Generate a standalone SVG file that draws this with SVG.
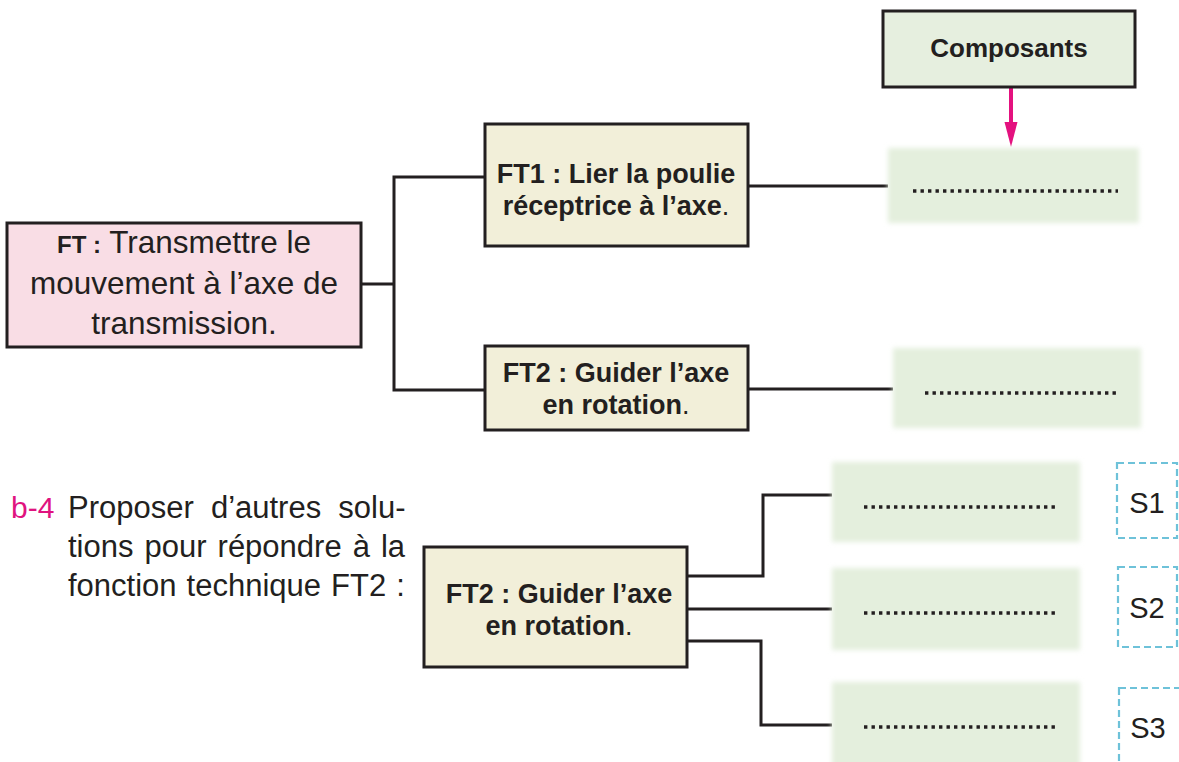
<svg xmlns="http://www.w3.org/2000/svg" width="1179" height="762" viewBox="0 0 1179 762">
<defs>
<style>
.box{stroke:#231f20;stroke-width:3}
.pink{fill:#f9dde5}
.cream{fill:#f2efd9}
.comp{fill:#e6efdf}
.green{fill:#e4efdd;filter:url(#soft)}
.conn{fill:none;stroke:#231f20;stroke-width:3}
.dots{stroke:#231f20;stroke-width:3.4;stroke-dasharray:3.4 4.1}
.sbox{fill:none;stroke:#6ec2d9;stroke-width:2.2;stroke-dasharray:7 4}
.t{font-family:"Liberation Sans",Arial,sans-serif;fill:#231f20}
.b{font-weight:bold}
.n{font-weight:normal}
</style>
<filter id="soft" x="-10%" y="-20%" width="120%" height="140%">
<feGaussianBlur stdDeviation="2.5"/>
</filter>
</defs>
<rect width="1179" height="762" fill="#ffffff"/>

<g id="connectors">
<polyline class="conn" points="361,284 394,284"/>
<polyline class="conn" points="485,177 394,177 394,390 485,390"/>
<line class="conn" x1="748" y1="186" x2="888" y2="186"/>
<line class="conn" x1="748" y1="389" x2="893" y2="389"/>
<polyline class="conn" points="687,576 763,576 763,495 832,495"/>
<line class="conn" x1="687" y1="609" x2="832" y2="609"/>
<polyline class="conn" points="687,641 761,641 761,725 832,725"/>
<g id="arrow">
<line x1="1011" y1="88" x2="1011" y2="126" stroke="#e4117f" stroke-width="4"/>
<polygon points="1004.5,122 1017.5,122 1011,147" fill="#e4117f"/>
</g>
</g>

<g id="ft">
<rect class="box pink" x="7" y="223" width="354" height="124"/>
<text class="t" text-anchor="middle" font-size="31.5"><tspan x="184" y="253"><tspan class="b" font-size="24">FT :</tspan> Transmettre le</tspan><tspan x="184" y="294">mouvement à l’axe de</tspan><tspan x="184" y="334">transmission.</tspan></text>
</g>

<g id="ft1">
<rect class="box cream" x="485" y="124" width="263" height="122"/>
<text class="t b" text-anchor="middle" font-size="27"><tspan x="616" y="183">FT1 : Lier la poulie</tspan><tspan x="616" y="215">réceptrice à l’axe<tspan class="n">.</tspan></tspan></text>
</g>

<g id="ft2">
<rect class="box cream" x="485" y="346" width="263" height="84"/>
<text class="t b" text-anchor="middle" font-size="27"><tspan x="616" y="382">FT2 : Guider l’axe</tspan><tspan x="616" y="414">en rotation<tspan class="n">.</tspan></tspan></text>
</g>

<g id="composants">
<rect class="box comp" x="883" y="11" width="252" height="76"/>
<text class="t b" x="1009" y="57" text-anchor="middle" font-size="26">Composants</text>
</g>

<g id="answer1">
<rect class="green" x="888" y="148" width="251" height="75"/>
<line class="dots" x1="913" y1="191" x2="1118" y2="191"/>
</g>

<g id="answer2">
<rect class="green" x="893" y="348" width="248" height="80"/>
<line class="dots" x1="925" y1="393" x2="1116" y2="393"/>
</g>

<g id="question">
<text class="t" x="11" y="518" font-size="30" style="fill:#e0137f">b-4</text>
<text class="t" font-size="31"><tspan x="68" y="518" word-spacing="8.5">Proposer d’autres solu-</tspan><tspan x="68" y="557" word-spacing="2.4">tions pour répondre à la</tspan><tspan x="68" y="596" word-spacing="1.4">fonction technique FT2 :</tspan></text>
</g>

<g id="ft2b">
<rect class="box cream" x="424" y="547" width="263" height="120"/>
<text class="t b" text-anchor="middle" font-size="27"><tspan x="559" y="603">FT2 : Guider l’axe</tspan><tspan x="559" y="635">en rotation<tspan class="n">.</tspan></tspan></text>
</g>

<g id="s1">
<rect class="green" x="832" y="462" width="248" height="80"/>
<line class="dots" x1="864" y1="507" x2="1055" y2="507"/>
<rect class="sbox" x="1117" y="463" width="60" height="75"/>
<text class="t" x="1147" y="513" text-anchor="middle" font-size="29">S1</text>
</g>

<g id="s2">
<rect class="green" x="832" y="568" width="248" height="82"/>
<line class="dots" x1="864" y1="613" x2="1055" y2="613"/>
<rect class="sbox" x="1118" y="567" width="59" height="80"/>
<text class="t" x="1147" y="618" text-anchor="middle" font-size="29">S2</text>
</g>

<g id="s3">
<rect class="green" x="832" y="682" width="248" height="90"/>
<line class="dots" x1="864" y1="727" x2="1055" y2="727"/>
<rect class="sbox" x="1119" y="688" width="62" height="90"/>
<text class="t" x="1148" y="738" text-anchor="middle" font-size="29">S3</text>
</g>
</svg>
